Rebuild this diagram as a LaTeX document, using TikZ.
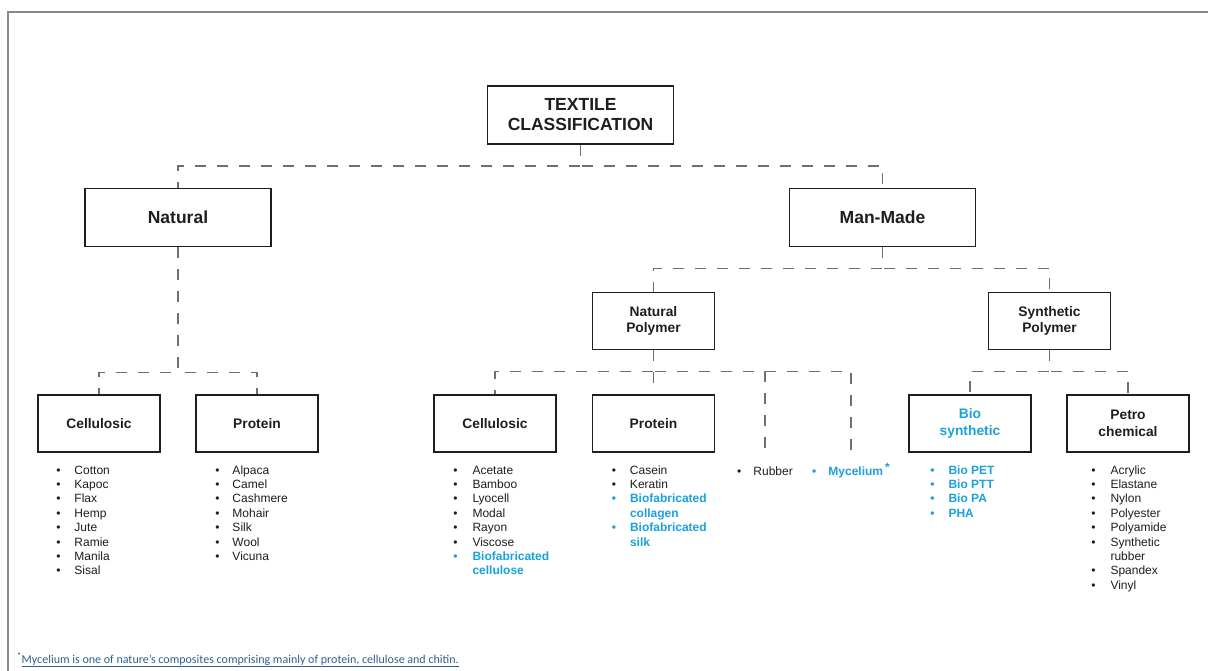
\documentclass[tikz,border=0pt]{standalone}
\usepackage{fontspec}
\setmainfont{Liberation Sans}
\newfontfamily\notefont{Carlito}
\usetikzlibrary{positioning}
\definecolor{bioblue}{HTML}{1BA1DB}
\definecolor{inkgray}{HTML}{1E1E1E}
\definecolor{linkgray}{HTML}{6F6F6F}
\definecolor{notecol}{HTML}{2F5F8F}
\definecolor{framegray}{HTML}{8A8A8A}
\newcommand{\bio}{\color{bioblue}\bfseries}
\tikzstyle{topbox} = [rectangle, draw=inkgray, line width=1.8pt, inner sep=0pt, minimum width=186pt, minimum height=58pt, align=center, text=inkgray, font=\fontsize{17.5}{20}\selectfont\bfseries]
\tikzstyle{subbox} = [rectangle, draw=inkgray, line width=1.8pt, inner sep=0pt, minimum width=122pt, minimum height=57pt, align=center, text=inkgray, font=\fontsize{13.8}{16.5}\selectfont\bfseries]
\tikzstyle{items} = [inner sep=0pt, text=inkgray, font=\fontsize{12}{14.4}\selectfont]
\tikzstyle{loose} = [items, text height=9pt, text depth=3pt]
\tikzstyle{link} = [draw=linkgray, line width=1.4pt, dash pattern=on 11pt off 11pt]

\begin{document}
\begin{tikzpicture}[x=1pt, y=-1pt]
    \useasboundingbox (0,0) rectangle (1208,671);
    \fill[white] (0,0) rectangle (1208,671);
    \draw[framegray, line width=2pt] (8,671) -- (8,12) -- (1208,12);

    % tree boxes
    \node[topbox] (root) at (580.5,115) {TEXTILE\\CLASSIFICATION};
    \node[topbox] (natural) at (178,217.5) {Natural};
    \node[topbox] (manmade) at (882.5,217.5) {Man-Made};
    \node[subbox] (natpoly) at (653.5,321) {Natural\\Polymer};
    \node[subbox] (synpoly) at (1049.5,321) {Synthetic\\Polymer};
    \node[subbox] (ncell) at (99,423.5) {Cellulosic};
    \node[subbox] (nprot) at (257,423.5) {Protein};
    \node[subbox] (mcell) at (495,423.5) {Cellulosic};
    \node[subbox] (mprot) at (653.5,423.5) {Protein};
    \node[subbox, text=bioblue] (biosyn) at (970,423.5) {Bio\\synthetic};
    \node[subbox] (petro) at (1128,423.5) {Petro\\chemical};
    \node[loose, anchor=base] (rubber) at (765,475) {\textbullet\hspace{12pt}Rubber};
    \node[loose, anchor=base] (mycel) at (851,475) {\bio\textbullet\hspace{12pt}Mycelium\hspace{2pt}\raisebox{3.5pt}{*}};

    % lists
    \node[items, below right=11pt and 19pt of ncell.south west] (ncelllist) {%
        \begin{tabular}{@{}l@{\hspace{14pt}}l@{}}
        \textbullet & Cotton\\ \textbullet & Kapoc\\ \textbullet & Flax\\ \textbullet & Hemp\\
        \textbullet & Jute\\ \textbullet & Ramie\\ \textbullet & Manila\\ \textbullet & Sisal
        \end{tabular}};
    \node[items, below right=11pt and 20pt of nprot.south west] (nprotlist) {%
        \begin{tabular}{@{}l@{\hspace{13pt}}l@{}}
        \textbullet & Alpaca\\ \textbullet & Camel\\ \textbullet & Cashmere\\ \textbullet & Mohair\\
        \textbullet & Silk\\ \textbullet & Wool\\ \textbullet & Vicuna
        \end{tabular}};
    \node[items, below right=11pt and 20pt of mcell.south west] (mcelllist) {%
        \begin{tabular}{@{}l@{\hspace{15pt}}l@{}}
        \textbullet & Acetate\\ \textbullet & Bamboo\\ \textbullet & Lyocell\\ \textbullet & Modal\\
        \textbullet & Rayon\\ \textbullet & Viscose\\
        \bio\textbullet & \bio Biofabricated\\ & \bio cellulose
        \end{tabular}};
    \node[items, below right=11pt and 20pt of mprot.south west] (mprotlist) {%
        \begin{tabular}{@{}l@{\hspace{14pt}}l@{}}
        \textbullet & Casein\\ \textbullet & Keratin\\
        \bio\textbullet & \bio Biofabricated\\ & \bio collagen\\
        \bio\textbullet & \bio Biofabricated\\ & \bio silk
        \end{tabular}};
    \node[items, below right=11pt and 22pt of biosyn.south west] (biolist) {%
        \begin{tabular}{@{}l@{\hspace{14pt}}l@{}}
        \bio\textbullet & \bio Bio PET\\ \bio\textbullet & \bio Bio PTT\\
        \bio\textbullet & \bio Bio PA\\ \bio\textbullet & \bio PHA
        \end{tabular}};
    \node[items, below right=11pt and 25pt of petro.south west] (petrolist) {%
        \begin{tabular}{@{}l@{\hspace{15pt}}l@{}}
        \textbullet & Acrylic\\ \textbullet & Elastane\\ \textbullet & Nylon\\ \textbullet & Polyester\\
        \textbullet & Polyamide\\ \textbullet & Synthetic\\ & rubber\\ \textbullet & Spandex\\ \textbullet & Vinyl
        \end{tabular}};

    % connectors
    \path[link] (root.south) -- ++(0,21) -| (natural.north);
    \path[link] (root.south) -- ++(0,21) -| (manmade.north);
    \path[link] (natural.south) -- ++(0,125) -| (ncell.north);
    \path[link] (natural.south) -- ++(0,125) -| (nprot.north);
    \path[link] (manmade.south) -- ++(0,21) -| (natpoly.north);
    \path[link] (manmade.south) -- ++(0,21) -| (synpoly.north);
    \path[link] (natpoly.south) -- ++(0,21) -| (mcell.north);
    \path[link] (natpoly.south) -- (mprot.north);
    \path[link, shorten >=13pt] (natpoly.south) -- ++(0,21) -| (rubber.north);
    \path[link, shorten >=13pt] (natpoly.south) -- ++(0,21) -| (mycel.north);
    \path[link] (synpoly.south) -- ++(0,21) -| (biosyn.north);
    \path[link] (synpoly.south) -- ++(0,21) -| (petro.north);

    % footnote
    \node[anchor=base west, inner sep=0pt, text=inkgray, font=\notefont\fontsize{12}{14}\selectfont] (note) at (17,663)
        {\textsuperscript{*}\textcolor{notecol}{\underline{Mycelium is one of nature’s composites comprising mainly of protein, cellulose and chitin.}}};
\end{tikzpicture}
\end{document}
